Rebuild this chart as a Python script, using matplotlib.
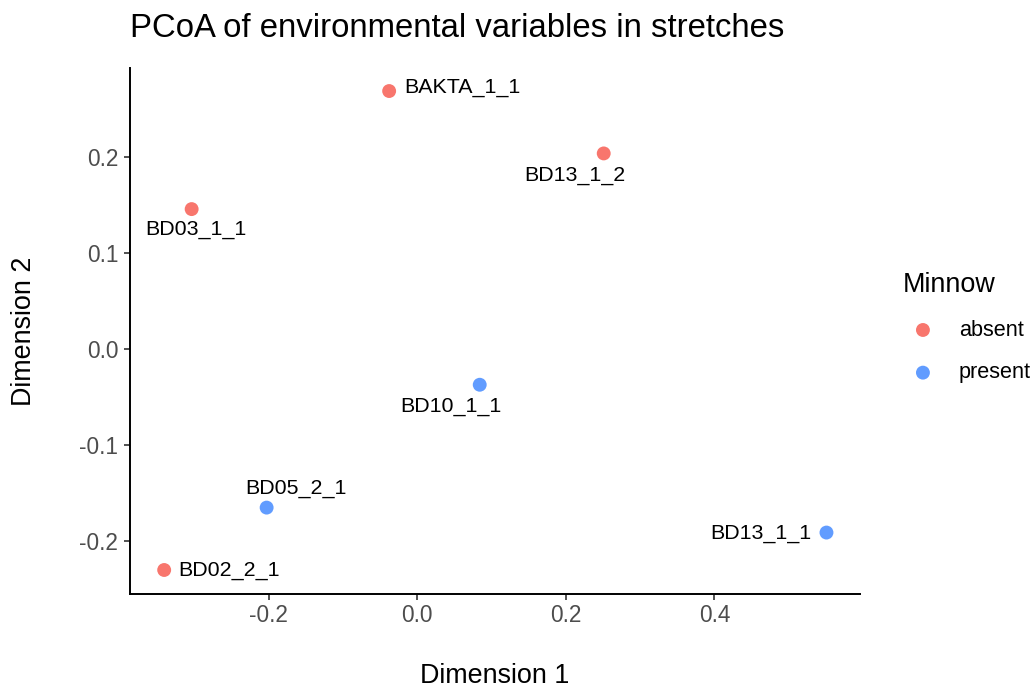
import matplotlib
matplotlib.use("Agg")
import matplotlib.pyplot as plt

plt.rcParams['font.family'] = ['Liberation Sans', 'DejaVu Sans']

labels = ["BAKTA_1_1", "BD13_1_2", "BD03_1_1", "BD10_1_1", "BD05_2_1", "BD02_2_1", "BD13_1_1"]
dim1 = [-0.038, 0.251, -0.304, 0.084, -0.203, -0.341, 0.551]
dim2 = [0.269, 0.204, 0.146, -0.037, -0.165, -0.230, -0.191]
minnow = ["absent", "absent", "absent", "present", "present", "absent", "present"]
groups = ["absent", "present"]
colors = {"absent": "#F8766D", "present": "#619CFF"}
xticks = [-0.2, 0.0, 0.2, 0.4]
xticklabels = ["-0.2", "0.0", "0.2", "0.4"]
yticks = [-0.2, -0.1, 0.0, 0.1, 0.2]
yticklabels = ["-0.2", "-0.1", "0.0", "0.1", "0.2"]

# label offsets in pixels (ggrepel-like placement) and alignment
offsets = [(15, 4, 'left'), (-29, -22, 'center'), (4, -20, 'center'), (-29, -22, 'center'),
           (29, 19, 'center'), (14, -1, 'left'), (-15, -1, 'right')]

fig = plt.figure(figsize=(10.36, 6.89), dpi=100)
ax = fig.add_axes([0.1255, 0.1379, 0.830 - 0.1255, 0.9013 - 0.1379])

for g in groups:
    xs = [x for x, m in zip(dim1, minnow) if m == g]
    ys = [y for y, m in zip(dim2, minnow) if m == g]
    ax.scatter(xs, ys, s=100, color=colors[g], label=g, edgecolors='none', zorder=3)

for lab, x, y, (dx, dy, ha) in zip(labels, dim1, dim2, offsets):
    ax.annotate(lab, (x, y), xytext=(dx, dy), textcoords='offset pixels',
                ha=ha, va='center', fontsize=15.4, color='black')

ax.set_xlim(-0.387, 0.596)
ax.set_ylim(-0.255, 0.293)
ax.set_xticks(xticks)
ax.set_xticklabels(xticklabels)
ax.set_yticks(yticks)
ax.set_yticklabels(yticklabels)

for side in ['top', 'right']:
    ax.spines[side].set_visible(False)
for side in ['left', 'bottom']:
    ax.spines[side].set_linewidth(1.4)
    ax.spines[side].set_color('black')
ax.tick_params(axis='both', length=4.5, width=1.2, color='#333333', labelsize=16.3,
               labelcolor='#4D4D4D')
ax.tick_params(axis='x', pad=2.5)
ax.tick_params(axis='y', pad=4)

ax.set_xlabel("Dimension 1", fontsize=19.4, va='center')
ax.xaxis.set_label_coords(0.5, -0.156)
ax.set_ylabel("Dimension 2", fontsize=19.4, va='center')
ax.yaxis.set_label_coords(-0.145, 0.5)
fig.text(0.1255, 1 - 37 / 689, "PCoA of environmental variables in stretches", fontsize=23.7,
         ha='left', va='baseline')

leg = ax.legend(title="Minnow", loc='upper left', bbox_to_anchor=(903 / 1036, 1 - 272 / 689),
                bbox_transform=fig.transFigure, frameon=False, fontsize=15.6,
                title_fontsize=19.4, handlelength=1.84, handletextpad=0.74,
                labelspacing=1.0, borderpad=0, borderaxespad=0)
leg._legend_box.align = "left"

fig.savefig("out.png", dpi=100)
